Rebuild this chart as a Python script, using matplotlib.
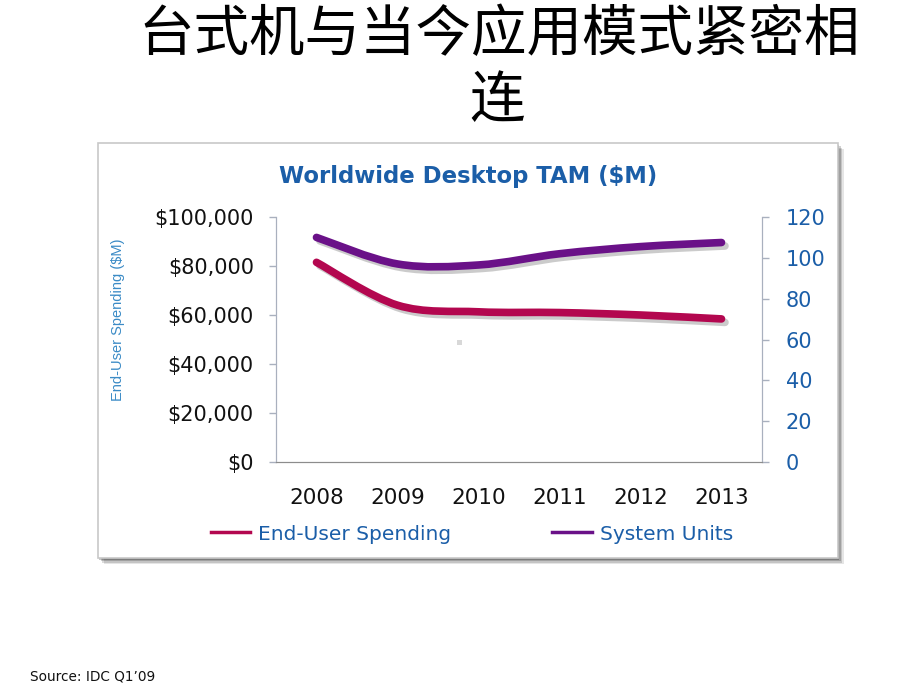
import numpy as np
import matplotlib
matplotlib.use("Agg")
import matplotlib.pyplot as plt
from matplotlib.path import Path
from matplotlib.patches import PathPatch, Rectangle
from matplotlib.lines import Line2D
import matplotlib.patheffects as pe

# data
years = ["2008", "2009", "2010", "2011", "2012", "2013"]
spending = [81500, 64000, 61300, 61000, 60000, 58400]   # $M, left axis
units = [110, 97, 96.5, 102, 105.5, 107.5]              # M units, right axis
left_ticks = [0, 20000, 40000, 60000, 80000, 100000]
left_labels = ["$0", "$20,000", "$40,000", "$60,000", "$80,000", "$100,000"]
right_ticks = [0, 20, 40, 60, 80, 100, 120]

RED = "#B3074F"
PURPLE = "#6A1188"
BLUE = "#1B5EA8"


def smooth_path(xs, ys):
    # excel-style smoothed line as cubic bezier segments through the points
    pts = np.column_stack([xs, ys]).astype(float)
    verts = [pts[0]]
    codes = [Path.MOVETO]
    n = len(pts)
    for i in range(n - 1):
        p0 = pts[i - 1] if i > 0 else pts[i]
        p1 = pts[i]
        p2 = pts[i + 1]
        p3 = pts[i + 2] if i + 2 < n else pts[i + 1]
        c1 = p1 + (p2 - p0) / 6.0
        c2 = p2 - (p3 - p1) / 6.0
        verts += [c1, c2, p2]
        codes += [Path.CURVE4] * 3
    return Path(verts, codes)


fig = plt.figure(figsize=(9.2, 6.9), dpi=100)
W, H = 920, 690

# slide title
cjk = ["Noto Sans CJK SC", "DejaVu Sans"]
fig.text(499 / W, 1 - 35 / H, "台式机与当今应用模式紧密相", family=cjk,
         fontsize=40, ha="center", va="center")
fig.text(497 / W, 1 - 101 / H, "连", family=cjk,
         fontsize=40, ha="center", va="center")

# chart frame with drop shadow
for k, a in enumerate([0.10, 0.14, 0.18, 0.22]):
    off = 6 - k * 1.5
    fig.patches.append(Rectangle(((98 + off) / W, 1 - (558 + off) / H),
                                 740 / W, 415 / H, transform=fig.transFigure,
                                 facecolor="black", alpha=a, edgecolor="none",
                                 zorder=-3))
fig.patches.append(Rectangle((98 / W, 1 - 558 / H), 740 / W, 415 / H,
                             transform=fig.transFigure, facecolor="white",
                             edgecolor="#C8C8C8", lw=1.2, zorder=-2))

fig.text(468 / W, 1 - 177 / H, "Worldwide Desktop TAM ($M)", color=BLUE,
         fontsize=16.4, fontweight="bold", ha="center", va="center")

ax = fig.add_axes([276 / W, 1 - 462 / H, 486 / W, 245 / H])
ax.set_facecolor("none")
ax2 = ax.twinx()
ax2.set_facecolor("none")

x = np.arange(len(years))
ax.set_xlim(-0.5, len(years) - 0.5)
ax.set_ylim(0, 100000)
ax2.set_ylim(0, 120)

ax.set_xticks(x)
ax.set_xticklabels(years)
ax.set_yticks(left_ticks)
ax.set_yticklabels(left_labels)
ax2.set_yticks(right_ticks)

ax.tick_params(axis="x", length=0, pad=19, labelsize=15.5, labelcolor="#111111")
ax.tick_params(axis="y", length=5, width=1, color="#A9B0BE", pad=11,
               labelsize=15, labelcolor="#111111")
ax2.tick_params(axis="y", length=5, width=1, color="#A9B0BE", pad=12,
                labelsize=15, labelcolor=BLUE)

for a in (ax, ax2):
    a.spines["top"].set_visible(False)
    a.spines["left"].set_color("#A9B0BE")
    a.spines["right"].set_color("#A9B0BE")
    a.spines["bottom"].set_color("#8C8C8C")

shadow = [pe.SimpleLineShadow(offset=(2.5, -2.5), shadow_color="#555555", alpha=0.3),
          pe.Normal()]
p_red = PathPatch(smooth_path(x, spending), facecolor="none", edgecolor=RED,
                  lw=5.5, capstyle="round", joinstyle="round",
                  transform=ax.transData, path_effects=shadow, clip_on=False)
ax.add_patch(p_red)
p_pur = PathPatch(smooth_path(x, units), facecolor="none", edgecolor=PURPLE,
                  lw=5.5, capstyle="round", joinstyle="round",
                  transform=ax2.transData, path_effects=shadow, clip_on=False)
ax2.add_patch(p_pur)

fig.text(118 / W, 1 - 320 / H, "End-User Spending ($M)", rotation=90,
         family="Liberation Sans", fontsize=10.5, color="#3B8BC6",
         ha="center", va="center")

# small grey artefact in the plot area
fig.patches.append(Rectangle((457 / W, 1 - 345 / H), 5 / W, 5 / H,
                             transform=fig.transFigure, facecolor="#D8D8D8",
                             edgecolor="none", zorder=1))

handles = [Line2D([], [], color=RED, lw=2.5), Line2D([], [], color=PURPLE, lw=2.5)]
fig.legend(handles, ["End-User Spending", "System Units"], loc="center",
           bbox_to_anchor=(472 / W, 1 - 534 / H), ncol=2, frameon=False,
           fontsize=14.5, labelcolor=BLUE, handlelength=1.95, handletextpad=0.4,
           columnspacing=5.0)

fig.text(30 / W, 1 - 676 / H, "Source: IDC Q1\u201909", fontsize=9.8,
         ha="left", va="center", color="#111111")

fig.savefig("out.png", dpi=100)
